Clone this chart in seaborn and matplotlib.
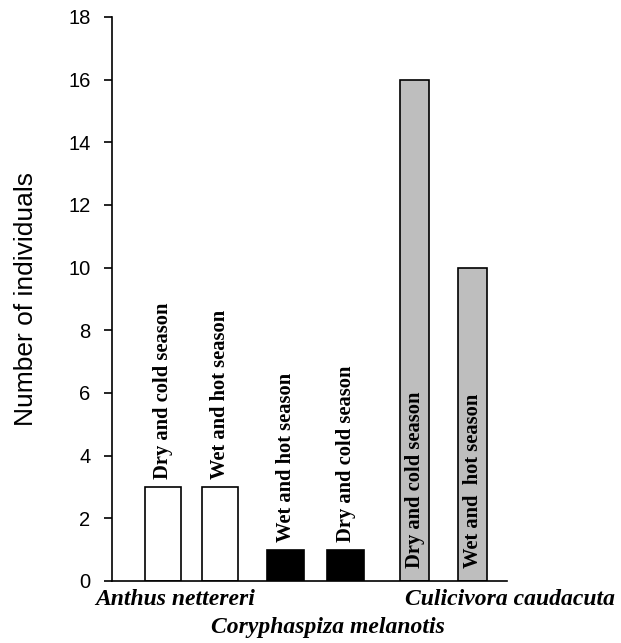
import numpy as np
import pandas as pd
import matplotlib
matplotlib.use("Agg")
import matplotlib.pyplot as plt
import seaborn as sns

# Counts of individuals per species and season
species = ["Anthus nettereri", "Anthus nettereri",
           "Coryphaspiza melanotis", "Coryphaspiza melanotis",
           "Culicivora caudacuta", "Culicivora caudacuta"]
seasons = ["Dry and cold season", "Wet and hot season",
           "Wet and hot season", "Dry and cold season",
           "Dry and cold season", "Wet and  hot season"]
counts = [3, 3, 1, 1, 16, 10]
y_ticks = [0, 2, 4, 6, 8, 10, 12, 14, 16, 18]
species_names = ["Anthus nettereri", "Coryphaspiza melanotis", "Culicivora caudacuta"]

# Layout: bar slots along the x axis (uneven spacing between groups)
bar_slots = [0.895, 1.895, 3.045, 4.105, 5.31, 6.325]
name_slots = [1.105, 3.78, 6.98]
name_rows = [-0.043, -0.092, -0.043]
px_per_unit = 57.0
bar_px = {"Anthus nettereri": 36, "Coryphaspiza melanotis": 37, "Culicivora caudacuta": 29}
fills = {"Anthus nettereri": "white", "Coryphaspiza melanotis": "black",
         "Culicivora caudacuta": "#bebebe"}

sns.set_style("ticks")
plt.rcParams["font.family"] = ["Liberation Sans", "DejaVu Sans"]

df = pd.DataFrame({"species": species, "season": seasons,
                   "count": counts, "pos": bar_slots})

fig = plt.figure(figsize=(6.21, 6.43), dpi=100)
ax = fig.add_axes([112 / 621, 1 - 581 / 643, 395 / 621, 564 / 643])

for sp, grp in df.groupby("species", sort=False):
    spacing = np.diff(np.sort(grp["pos"].values)).min()
    w = bar_px[sp] / px_per_unit / spacing
    sns.barplot(data=grp, x="pos", y="count", native_scale=True,
                color=fills[sp], saturation=1, edgecolor="black",
                linewidth=1.2, width=w, errorbar=None, ax=ax)

ax.set_xlim(0, 6.93)
ax.set_ylim(0, 18)
ax.set_yticks(y_ticks)
ax.set_yticklabels([str(t) for t in y_ticks])
ax.set_xticks([])
ax.set_xlabel("")
sns.despine(ax=ax)
for s in ("left", "bottom"):
    ax.spines[s].set_linewidth(1.2)
    ax.spines[s].set_color("black")
ax.tick_params(axis="y", length=6, width=1.2, pad=9.5, labelsize=14.5,
               color="black", labelcolor="black")

ax.set_ylabel("Number of individuals", fontsize=19, color="black")
ax.yaxis.set_label_coords(-0.187, 0.5)

# Season labels: above short bars, inside tall bars
for pos, cnt, txt in zip(df["pos"], df["count"], df["season"]):
    y = 0.43 if cnt > 5 else cnt + 0.25
    ax.text(pos, y, txt, rotation=90, ha="center", va="bottom",
            family="Liberation Serif", weight="bold", fontsize=14.8,
            color="black")

# Species names under the axis
trans = ax.get_xaxis_transform()
for name, xs, yr in zip(species_names, name_slots, name_rows):
    ax.text(xs, yr, name, transform=trans, ha="center", va="baseline",
            family="Liberation Serif", weight="bold", style="italic",
            fontsize=17, color="black", clip_on=False)

fig.savefig("out.png", dpi=100, facecolor="white")
